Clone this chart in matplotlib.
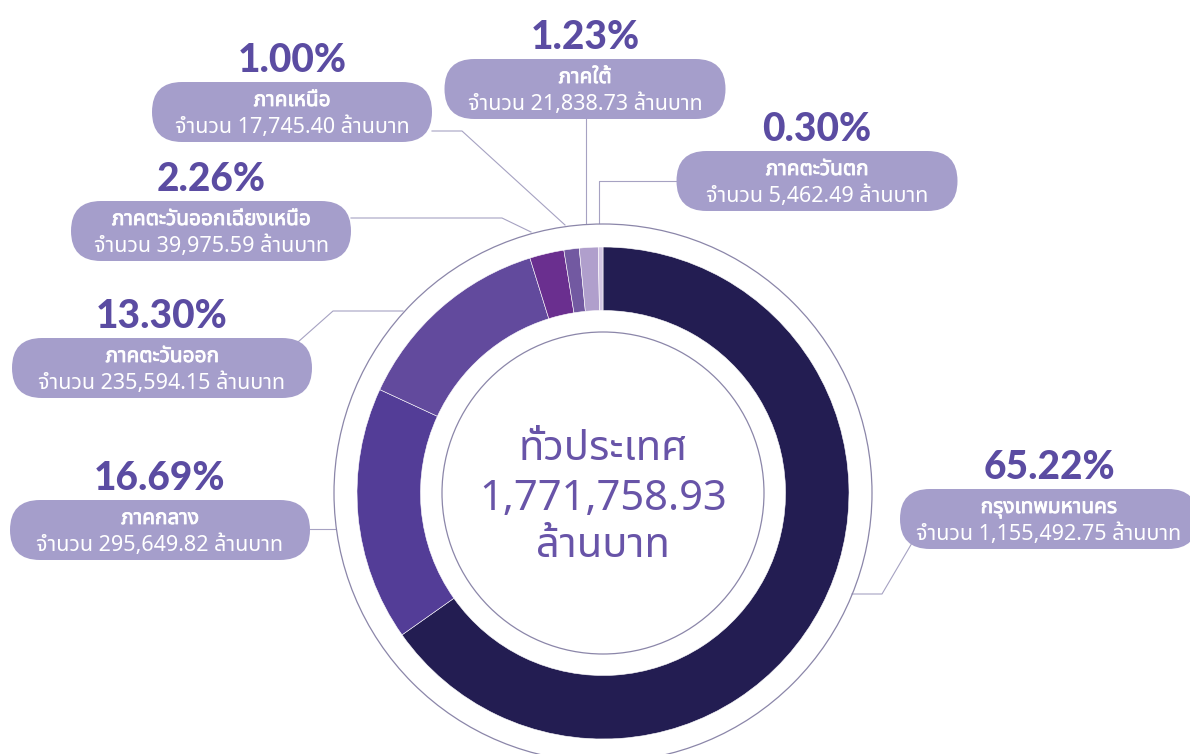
import matplotlib
matplotlib.use('Agg')
import matplotlib.pyplot as plt
from matplotlib import font_manager, patheffects
from matplotlib.ft2font import FT2Font
from matplotlib.patches import FancyBboxPatch, Circle

# ---------------- data ----------------
regions = ['กรุงเทพมหานคร', 'ภาคกลาง', 'ภาคตะวันออก', 'ภาคตะวันออกเฉียงเหนือ',
           'ภาคเหนือ', 'ภาคใต้', 'ภาคตะวันตก']
amounts = [1155492.75, 295649.82, 235594.15, 39975.59, 17745.40, 21838.73, 5462.49]
percents = [65.22, 16.69, 13.30, 2.26, 1.00, 1.23, 0.30]
total = 1771758.93
center_title = 'ทั่วประเทศ'
unit = 'ล้านบาท'
amount_prefix = 'จำนวน'

# ---------------- styling / layout (pixels) ----------------
W, H = 1190, 754
wedge_colors = ['#231d52', '#533d97', '#624a9d', '#6a2f8f', '#7259a1', '#b09fcc', '#d3c6e3']
box_color = '#a59ecb'
pct_color = '#5b4ca2'
center_color = '#6854a8'
ring_color = '#8b86a9'
leader_color = '#a6a2c2'

cx, cy = 603, 493
r_out, r_width = 246, 63.5
r_ring_out, r_ring_in = 269, 161

# box centre x, centre y, width for each region (same order as regions)
boxes = [(1049, 519, 298), (160, 530, 300), (162, 368, 300), (211, 231, 280),
         (292, 112, 280), (585, 89, 281), (817, 181, 281)]
box_h = 60
leaders = [
    [(912, 543), (882, 594), (852, 594)],
    [(310, 529), (335, 529)],
    [(298, 342), (333, 311), (403, 311)],
    [(351, 218), (502, 218), (531, 232)],
    [(432, 131), (462, 131), (565, 225)],
    [(586, 119), (586, 223)],
    [(677, 181), (599, 181), (599, 223)],
]


def thai_family():
    # matplotlib's default fonts have no Thai glyphs, look for one that does
    wanted = ['Noto Sans Thai', 'Noto Sans Thai Looped', 'Noto Sans Thai UI', 'Sarabun',
              'Kanit', 'Prompt', 'Loma', 'Garuda', 'Waree', 'Umpush', 'Norasi',
              'FreeSans', 'Noto Serif Thai', 'FreeSerif']
    found = set()
    seen = {}
    for entry in font_manager.fontManager.ttflist:
        if entry.fname not in seen:
            try:
                seen[entry.fname] = 0x0E20 in FT2Font(entry.fname).get_charmap()
            except Exception:
                seen[entry.fname] = False
        if seen[entry.fname]:
            found.add(entry.name)
    for name in wanted:
        if name in found:
            return name
    return sorted(found)[0] if found else 'DejaVu Sans'


thai = thai_family()
THAI = [thai, 'DejaVu Sans']
PCT = ['Lato', thai, 'DejaVu Sans']
# no bold Thai face installed, so thicken the region names with a stroke
fake_bold = [patheffects.withStroke(linewidth=0.6, foreground='white')]

fig = plt.figure(figsize=(W / 100, H / 100), dpi=100)
ax = fig.add_axes([0, 0, 1, 1])

# y axis is inverted below (pixel coords), so start at -90 and go "counterclock"
# in data space, which shows as clockwise from 12 o'clock on screen
ax.pie(amounts, colors=wedge_colors, startangle=-90, counterclock=True,
       radius=r_out, center=(cx, cy),
       wedgeprops=dict(width=r_width, edgecolor='white', linewidth=0.4))

for r in (r_ring_out, r_ring_in):
    ax.add_patch(Circle((cx, cy), r, fill=False, edgecolor=ring_color, lw=0.9, zorder=3))

for pts in leaders:
    xs, ys = zip(*pts)
    ax.plot(xs, ys, color=leader_color, lw=0.8, zorder=2)

for name, amt, pct, (bx, by, bw) in zip(regions, amounts, percents, boxes):
    ax.add_patch(FancyBboxPatch((bx - bw / 2, by - box_h / 2), bw, box_h,
                                boxstyle='round,pad=0,rounding_size=30',
                                facecolor=box_color, edgecolor='none', zorder=4))
    ax.text(bx, by - 6, name, ha='center', va='baseline', color='white',
            fontsize=15, family=THAI, zorder=5, path_effects=fake_bold)
    ax.text(bx, by + 21, f'{amount_prefix} {amt:,.2f} {unit}', ha='center', va='baseline',
            color='white', fontsize=15.5, family=THAI, zorder=5)
    ax.text(bx, by - box_h / 2 - 10, f'{pct:.2f}%', ha='center', va='baseline',
            color=pct_color, fontsize=28, fontweight='black', family=PCT, zorder=5)

for dy, s in zip((-33, 17, 64), (center_title, f'{total:,.2f}', unit)):
    ax.text(cx, cy + dy, s, ha='center', va='baseline', color=center_color,
            fontsize=30, family=THAI, zorder=5)

ax.set_xlim(0, W)
ax.set_ylim(H, 0)
ax.set_aspect('equal')
ax.axis('off')

fig.savefig('out.png', dpi=100, facecolor='white')
